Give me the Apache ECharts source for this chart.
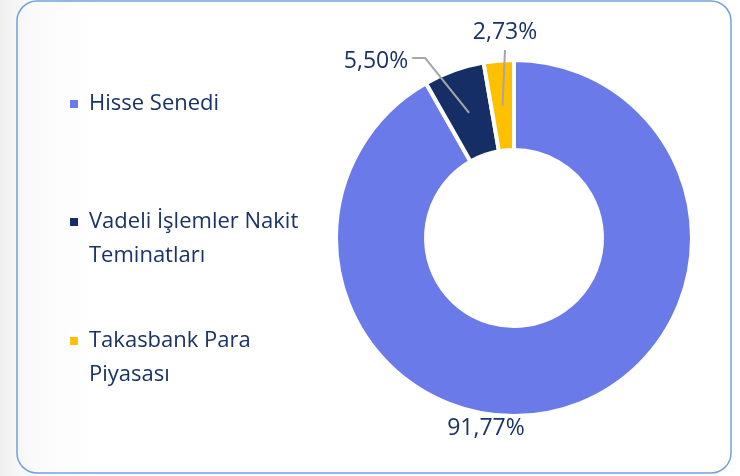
<!DOCTYPE html>
<html>
<head>
<meta charset="utf-8">
<script src="https://cdn.jsdelivr.net/npm/echarts@6/dist/echarts.min.js"></script>
<style>
    html, body { margin: 0; padding: 0; }
    body { background: linear-gradient(to right, #f0f0f0 0px, #fafafa 30px, #ffffff 100px); }
    #chart { width: 740px; height: 476px; }
</style>
</head>
<body>
<div id="chart"></div>
<script>
// veri
const categories = ['Hisse Senedi', 'Vadeli İşlemler Nakit Teminatları', 'Takasbank Para Piyasası'];
const legendLabels = ['Hisse Senedi', 'Vadeli İşlemler Nakit\nTeminatları', 'Takasbank Para\nPiyasası'];
const shares = [91.77, 5.50, 2.73];
const colors = ['#6A7AE8', '#152F66', '#FFC000'];

const textColor = '#1A3366';
const cx = 514, cy = 238, rOut = 178, rIn = 88;

// etiket yerleri (label merkezleri)
const labelAnchors = [[486, 428], [376, 61], [505, 32]];

const chart = echarts.init(document.getElementById('chart'));

const total = shares.reduce((a, b) => a + b, 0);

// dilim ortasi (halka ortasi) - leader line bu noktadan baslar
function sliceMid(idx) {
    let before = 0;
    for (let i = 0; i < idx; i++) before += shares[i];
    const frac = (before + shares[idx] / 2) / total;
    const a = frac * Math.PI * 2;
    const r = (rOut + rIn) / 2;
    return [cx + r * Math.sin(a), cy - r * Math.cos(a)];
}

// her kategori icin ayri legend; cok satirli yazilarda ilk satir ikonla ayni hizada olsun diye
// basa bos satir ekleniyor (metin ikona gore ortalaniyor)
const legendTops = [87, 171, 290];
const legends = categories.map((name, i) => {
    const lines = legendLabels[i].split('\n').length;
    const txt = (lines > 1 ? '\n'.repeat(lines - 1) : '') + legendLabels[i];
    return {
        orient: 'vertical',
        left: 68,
        top: legendTops[i],
        padding: 0,
        itemWidth: 10,
        itemHeight: 10,
        icon: 'rect',
        selectedMode: false,
        data: [name],
        formatter: () => txt,
        textStyle: {
            color: textColor,
            fontFamily: 'Open Sans',
            fontSize: 22,
            lineHeight: 34,
            padding: [0, 0, 0, 5]
        }
    };
});

const pieBase = {
    type: 'pie',
    center: [cx, cy],
    radius: [rIn, rOut],
    startAngle: 90,
    clockwise: true,
    avoidLabelOverlap: false
};

chart.setOption({
    animation: false,
    color: colors,
    legend: legends,
    graphic: [{
        type: 'rect',
        shape: { x: 17, y: 1, width: 714, height: 472, r: 20 },
        style: { fill: 'rgba(0,0,0,0)', stroke: '#6FA3DC', lineWidth: 1.5 },
        silent: true
    }],
    series: [
        Object.assign({}, pieBase, {
            itemStyle: { borderColor: '#ffffff', borderWidth: 4 },
            label: { show: false },
            labelLine: { show: false },
            data: categories.map((name, i) => ({ name: name, value: shares[i] }))
        }),
        // ust katman: sadece etiketler ve cizgiler (cizgiler dilimin ustunde kalsin)
        Object.assign({}, pieBase, {
            z: 5,
            silent: true,
            itemStyle: { color: 'rgba(0,0,0,0)', borderWidth: 0 },
            label: {
                show: true,
                position: 'outside',
                formatter: (p) => p.value.toFixed(2).replace('.', ',') + '%',
                color: textColor,
                fontFamily: 'Open Sans',
                fontSize: 23
            },
            labelLine: {
                show: true,
                lineStyle: { color: '#A6A6A6', width: 2 }
            },
            labelLayout: function (p) {
                const pos = labelAnchors[p.dataIndex];
                const out = { x: pos[0], y: pos[1], align: 'center', verticalAlign: 'middle' };
                const m = sliceMid(p.dataIndex);
                const w = p.labelRect.width;
                if (p.dataIndex === 1) {
                    const lx = pos[0] + w / 2 + 4;
                    out.labelLinePoints = [m, [lx + 13, pos[1] - 3], [lx, pos[1] - 3]];
                } else if (p.dataIndex === 2) {
                    const ly = pos[1] + 18;
                    out.labelLinePoints = [m, [pos[0], ly], [pos[0], ly]];
                }
                return out;
            },
            data: categories.map((name, i) => ({
                name: ' ' + name,
                value: shares[i],
                labelLine: { show: i !== 0 }
            }))
        })
    ]
});
</script>
</body>
</html>
